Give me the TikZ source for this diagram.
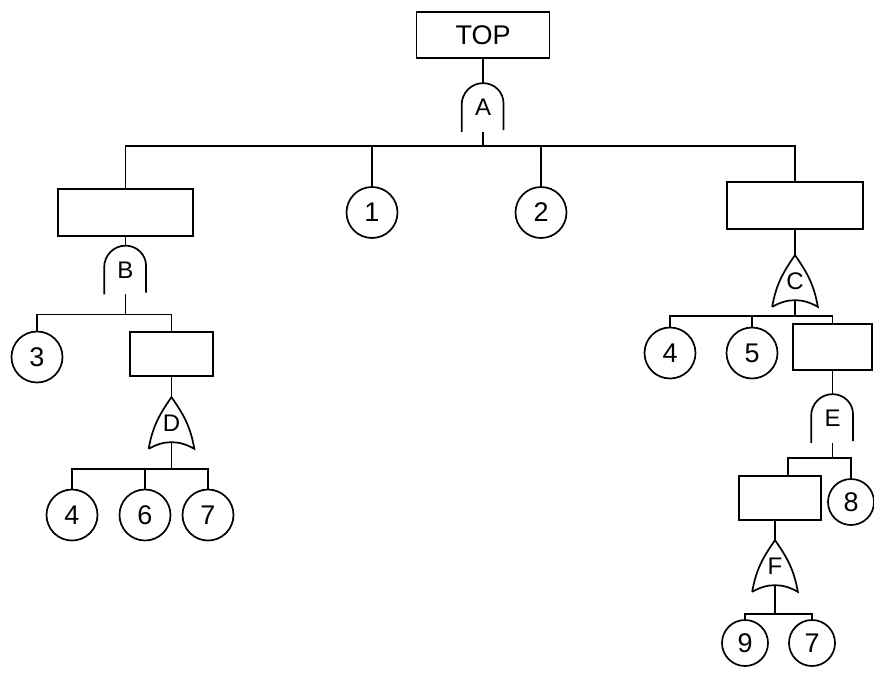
\documentclass[tikz,border=0pt]{standalone}
\usepackage{fontspec}
\setmainfont{Liberation Sans}
\usepackage{tikz}

\begin{document}
\begin{tikzpicture}[x=1pt,y=1pt,line width=1.7pt,
  every node/.style={font=\fontsize{27}{30}\selectfont,inner sep=0pt},
  event/.style={draw,rectangle},
  basic/.style={draw,circle,minimum size=51pt},
  smallbasic/.style={draw,circle,minimum size=46pt},
  andgate/.style={minimum width=41pt,minimum height=47pt,font=\fontsize{24}{26}\selectfont},
  orgate/.style={minimum width=44pt,minimum height=50pt,font=\fontsize{24}{26}\selectfont}]

\useasboundingbox (0,0) rectangle (874,-682);

% top event, gate A
\node [event,minimum width=133pt,minimum height=46pt] (top) at (483,-35) {TOP};
\node [andgate] (gA) at (483,-107.5) {A};
\node [event,minimum width=135pt,minimum height=47pt] (b1) at (125.5,-212.5) {};
\node [basic] (e1) at (372,-212.5) {1};
\node [basic] (e2) at (541,-212.5) {2};
\node [event,minimum width=136pt,minimum height=47pt] (b2) at (795,-205.5) {};

% left branch, gates B and D
\node [andgate] (gB) at (125.5,-270) {B};
\node [basic] (e3) at (37,-357) {3};
\node [event,minimum width=83pt,minimum height=44pt] (b3) at (171.5,-354) {};
\node [orgate] (gD) at (171.5,-423) {D};
\node [basic] (e4a) at (72,-515) {4};
\node [basic] (e6) at (145,-515) {6};
\node [basic] (e7a) at (208,-515) {7};

% right branch, gates C, E and F
\node [orgate] (gC) at (795,-281) {C};
\node [basic] (e4b) at (670,-353) {4};
\node [basic] (e5) at (752,-353) {5};
\node [event,minimum width=79pt,minimum height=46pt] (b4) at (832.5,-347) {};
\node [andgate] (gE) at (832.5,-418.5) {E};
\node [event,minimum width=82pt,minimum height=44pt] (b5) at (780,-498) {};
\node [smallbasic] (e8) at (851,-502) {8};
\node [orgate] (gF) at (775,-566) {F};
\node [smallbasic] (e9) at (745,-643) {9};
\node [smallbasic] (e7b) at (812,-643) {7};

% gate outlines
\foreach \g in {gA,gB,gE}
  \draw (\g.south west) -- ++(0,27) to [out=90,in=180] (\g.north) to [out=0,in=90] ++(20.5,-20) -- ++(0,-27);
\foreach \g in {gC,gD,gF}
  \draw (\g.south west) to [out=80,in=-125] (\g.north) to [out=-55,in=100] (\g.south east) to [out=150,in=30] (\g.south west);

% events into gates
\draw (top) -- (gA);
\draw (b1) -- (gB);
\draw (b2) -- (gC);
\draw (b3) -- (gD);
\draw (b4.south) -- (gE.north);
\draw (gF.north) -- (gF.north |- b5.south);

% gate outputs
\draw (gA.south) -- ++(0,-14) coordinate (cA);
\foreach \n in {b1,e1,e2,b2} \draw (cA) -| (\n.north);
\draw (gB.south) -- ++(0,-20) coordinate (cB);
\foreach \n in {e3,b3} \draw (cB) -| (\n.north);
\draw ([yshift=6pt]gD.south) -- ++(0,-26) coordinate (cD);
\foreach \n in {e4a,e6,e7a} \draw (cD) -| (\n.north);
\draw ([yshift=6pt]gC.south) -- ++(0,-15) coordinate (cC);
\foreach \n in {e4b,e5,b4} \draw (cC) -| (\n.north);
\draw (gE.south) -- ++(0,-15) coordinate (cE);
\draw (cE) -| ([xshift=8pt]b5.north);
\draw (cE) -| (e8.north);
\draw ([yshift=6pt]gF.south) -- ++(0,-28) coordinate (cF);
\foreach \n in {e9,e7b} \draw (cF) -| (\n.north);

\end{tikzpicture}
\end{document}
